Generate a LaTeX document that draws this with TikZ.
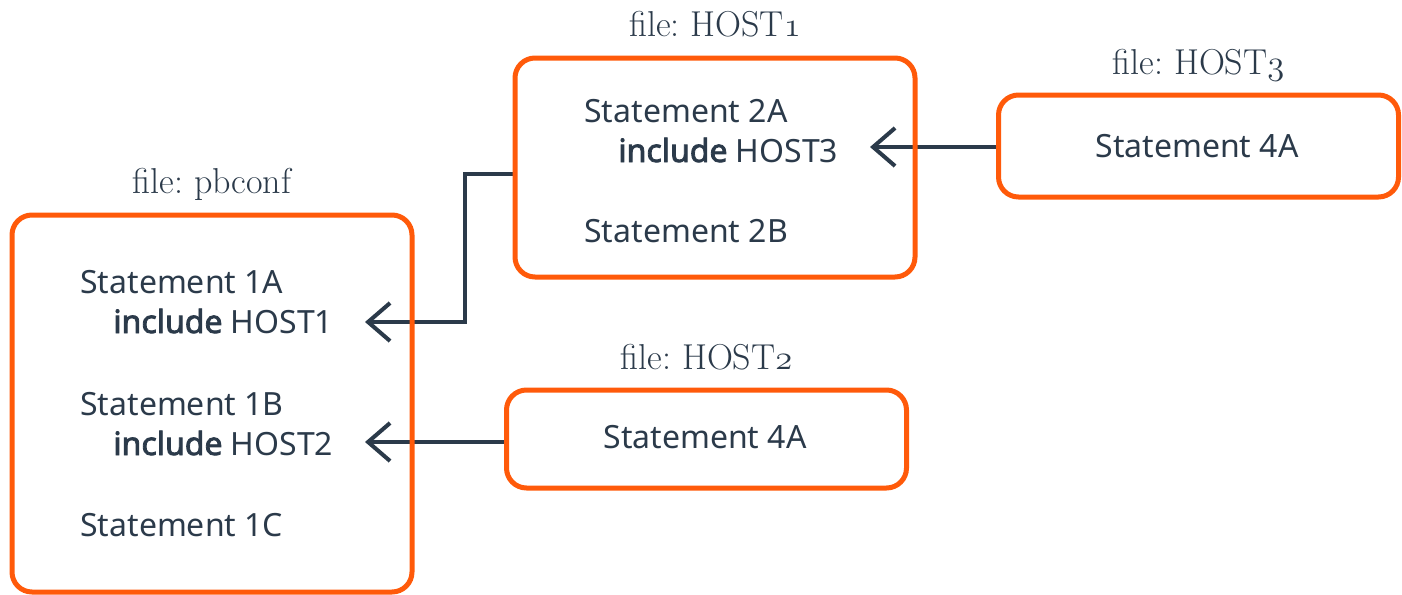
\documentclass[tikz,border=0pt]{standalone}
\usepackage{fontspec}
\newfontfamily\bodyfont{Noto Sans}[AutoFakeBold=2.5]
\usetikzlibrary{arrows.meta,positioning,backgrounds}
\definecolor{pborange}{HTML}{FF5A0A}
\definecolor{pbslate}{HTML}{2B3A4A}
\newcommand\osnum[1]{{\usefont{OML}{lmm}{m}{it}#1}}
\begin{document}
\begin{tikzpicture}[
    x=0.5pt, y=-0.5pt,
    filebox/.style={draw=pborange, line width=2.5pt, rounded corners=10pt, minimum width=200pt},
    filetitle/.style={text=pbslate, font=\fontsize{18}{21}\selectfont\frenchspacing, inner sep=0pt, text depth=0pt},
    stmt/.style={text=pbslate, font=\bodyfont\fontsize{16}{19}\selectfont, inner sep=0pt, anchor=base west},
    conn/.style={draw=pbslate, line width=2pt, -{Straight Barb[length=11pt,width=19pt]}}
]
\useasboundingbox (0,0) rectangle (1402,594);

\node[filebox, minimum height=188.5pt] (pbconf) at (212,403.5) {};
\node[filebox, minimum height=109.5pt] (host1) at (715,167.5) {};
\node[filebox, minimum height=51pt] (host3) at (1198.5,146) {};
\node[filebox, minimum height=49pt] (host2) at (706.5,439) {};

\node[filetitle, above=9.5pt of pbconf] (pbconf-title) {file: pbconf};
\node[filetitle, above=9.5pt of host1] (host1-title) {file: HOST\osnum{1}};
\node[filetitle, above=9pt of host3] (host3-title) {file: HOST\osnum{3}};
\node[filetitle, above=9pt of host2] (host2-title) {file: HOST\osnum{2}};

% pbconf
\node[stmt] (s1a) at (80,293) {Statement 1A};
\node[stmt] (inc1) at (113,333) {{\bfseries include} HOST1};
\node[stmt] (s1b) at (80,415) {Statement 1B};
\node[stmt] (inc2) at (113,455) {{\bfseries include} HOST2};
\node[stmt] (s1c) at (80,536) {Statement 1C};

% HOST1
\node[stmt] (s2a) at (584,122) {Statement 2A};
\node[stmt] (inc3) at (618,162) {{\bfseries include} HOST3};
\node[stmt] (s2b) at (584,242) {Statement 2B};

% HOST2, HOST3
\node[stmt, anchor=base] (s4a-host3) at (1197,157) {Statement 4A};
\node[stmt, anchor=base] (s4a-host2) at (705,448) {Statement 4A};

\coordinate (in1) at (365,322);
\coordinate (in2) at (365,442);
\coordinate (in3) at (870,147);
\coordinate (bend1) at (465,174);

\begin{pgfonlayer}{background}
\draw[conn] (host1.west |- bend1) -- (bend1) |- (in1);
\draw[conn] (host2.west |- in2) -- (in2);
\draw[conn] (host3.west |- in3) -- (in3);
\end{pgfonlayer}
\end{tikzpicture}
\end{document}
